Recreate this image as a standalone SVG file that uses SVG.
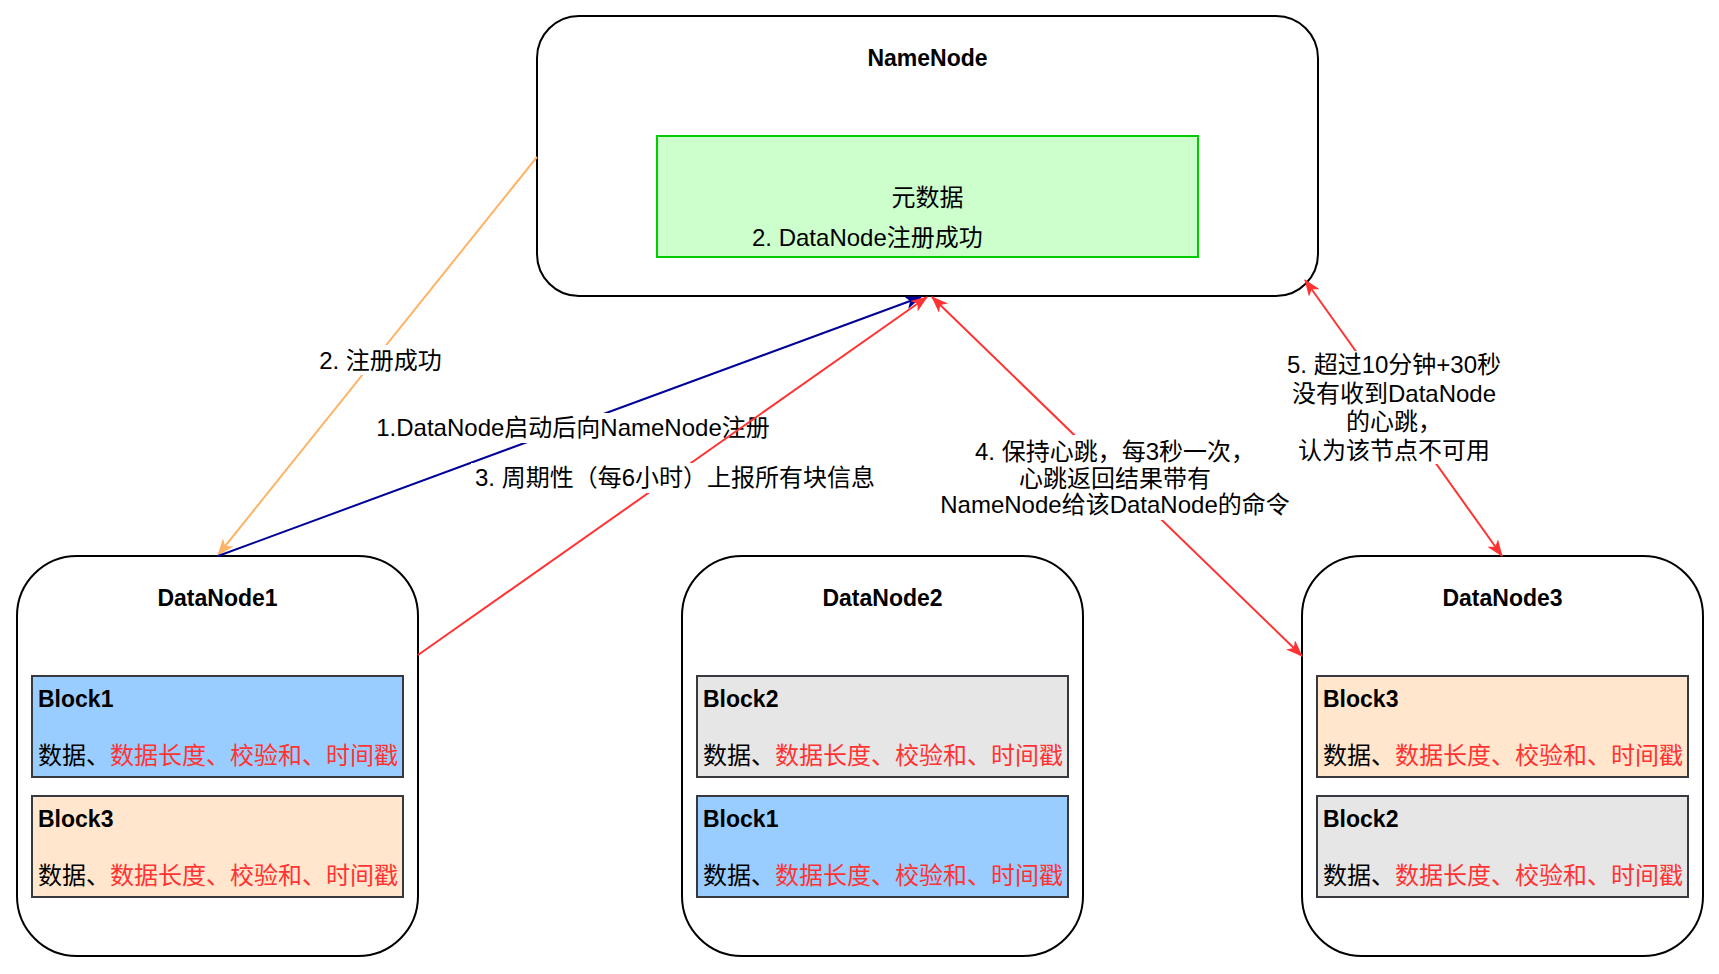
<svg xmlns="http://www.w3.org/2000/svg" width="1719" height="974" viewBox="0 0 1719 974">
<style>
text{font-family:'Liberation Sans','Noto Sans CJK SC',sans-serif;fill:#000}
.t{font-size:24px}
.b{font-size:23px;font-weight:bold}
.mid{text-anchor:middle}
.node{fill:#fff;stroke:#000;stroke-width:2}
.blk{stroke:#36393d;stroke-width:2}
.red{fill:#FF3333}
.edge{fill:none;stroke-width:2}
.lbg{fill:#fff}
</style>
<defs>
<marker id="aO" viewBox="0 0 17 13" refX="16" refY="6.5" markerWidth="17" markerHeight="13" orient="auto-start-reverse" markerUnits="userSpaceOnUse"><path d="M0,0 L17,6.5 L0,13 L4.5,6.5 Z" fill="#FFB366"/></marker>
<marker id="aB" viewBox="0 0 17 13" refX="16" refY="6.5" markerWidth="17" markerHeight="13" orient="auto-start-reverse" markerUnits="userSpaceOnUse"><path d="M0,0 L17,6.5 L0,13 L4.5,6.5 Z" fill="#000099"/></marker>
<marker id="aR" viewBox="0 0 17 13" refX="16" refY="6.5" markerWidth="17" markerHeight="13" orient="auto-start-reverse" markerUnits="userSpaceOnUse"><path d="M0,0 L17,6.5 L0,13 L4.5,6.5 Z" fill="#FF3333"/></marker>
</defs>

<g id="NameNode">
<rect class="node" x="537" y="16" width="781" height="280" rx="42"/>
<text class="b mid" x="927.5" y="66">NameNode</text>
<rect x="657" y="136" width="541" height="121" fill="#CCFFCC" stroke="#00CC00" stroke-width="2"/>
<text class="t mid" x="927.5" y="206">元数据</text>
<text class="t" x="752" y="246">2. DataNode注册成功</text>
</g>

<g id="DataNode1">
<rect class="node" x="17" y="556" width="401" height="400" rx="60"/>
<text class="b mid" x="217.5" y="606">DataNode1</text>
<rect class="blk" x="32" y="676" width="371" height="101" fill="#99CCFF"/>
<text class="b" x="38" y="707">Block1</text>
<text class="t" x="38" y="764">数据、<tspan class="red">数据长度、校验和、时间戳</tspan></text>
<rect class="blk" x="32" y="796" width="371" height="101" fill="#FFE6CC"/>
<text class="b" x="38" y="827">Block3</text>
<text class="t" x="38" y="884">数据、<tspan class="red">数据长度、校验和、时间戳</tspan></text>
</g>

<g id="DataNode2">
<rect class="node" x="682" y="556" width="401" height="400" rx="60"/>
<text class="b mid" x="882.5" y="606">DataNode2</text>
<rect class="blk" x="697" y="676" width="371" height="101" fill="#E6E6E6"/>
<text class="b" x="703" y="707">Block2</text>
<text class="t" x="703" y="764">数据、<tspan class="red">数据长度、校验和、时间戳</tspan></text>
<rect class="blk" x="697" y="796" width="371" height="101" fill="#99CCFF"/>
<text class="b" x="703" y="827">Block1</text>
<text class="t" x="703" y="884">数据、<tspan class="red">数据长度、校验和、时间戳</tspan></text>
</g>

<g id="DataNode3">
<rect class="node" x="1302" y="556" width="401" height="400" rx="60"/>
<text class="b mid" x="1502.5" y="606">DataNode3</text>
<rect class="blk" x="1317" y="676" width="371" height="101" fill="#FFE6CC"/>
<text class="b" x="1323" y="707">Block3</text>
<text class="t" x="1323" y="764">数据、<tspan class="red">数据长度、校验和、时间戳</tspan></text>
<rect class="blk" x="1317" y="796" width="371" height="101" fill="#E6E6E6"/>
<text class="b" x="1323" y="827">Block2</text>
<text class="t" x="1323" y="884">数据、<tspan class="red">数据长度、校验和、时间戳</tspan></text>
</g>

<g id="connectors">
<g id="e-register-ok">
<path class="edge" d="M537,157 L218,555" stroke="#FFB366" marker-end="url(#aO)"/>
<rect class="lbg" x="318" y="345" width="125" height="30"/>
<text class="t mid" x="380.5" y="369">2. 注册成功</text>
</g>
<g id="e-register">
<path class="edge" d="M218,556 L921,297" stroke="#000099" marker-end="url(#aB)"/>
<rect class="lbg" x="376" y="413" width="394" height="30"/>
<text class="t mid" x="573" y="436">1.DataNode启动后向NameNode注册</text>
</g>
<g id="e-report">
<path class="edge" d="M418,655 L927,297" stroke="#FF3333" marker-end="url(#aR)"/>
<rect class="lbg" x="471" y="463" width="408" height="30"/>
<text class="t mid" x="675" y="486">3. 周期性（每6小时）上报所有块信息</text>
</g>
<g id="e-heartbeat">
<path class="edge" d="M932,297 L1302,656" stroke="#FF3333" marker-start="url(#aR)" marker-end="url(#aR)"/>
<rect class="lbg" x="940" y="435" width="350" height="85"/>
<text class="t mid" x="1115" y="460">4. 保持心跳，每3秒一次，</text>
<text class="t mid" x="1115" y="486.5">心跳返回结果带有</text>
<text class="t mid" x="1115" y="513">NameNode给该DataNode的命令</text>
</g>
<g id="e-timeout">
<path class="edge" d="M1305,280 L1502,556" stroke="#FF3333" marker-start="url(#aR)" marker-end="url(#aR)"/>
<rect class="lbg" x="1286" y="351" width="216" height="113"/>
<text class="t mid" x="1394" y="373">5. 超过10分钟+30秒</text>
<text class="t mid" x="1394" y="401.5">没有收到DataNode</text>
<text class="t mid" x="1394" y="430">的心跳，</text>
<text class="t mid" x="1394" y="458.5">认为该节点不可用</text>
</g>
</g>
</svg>
